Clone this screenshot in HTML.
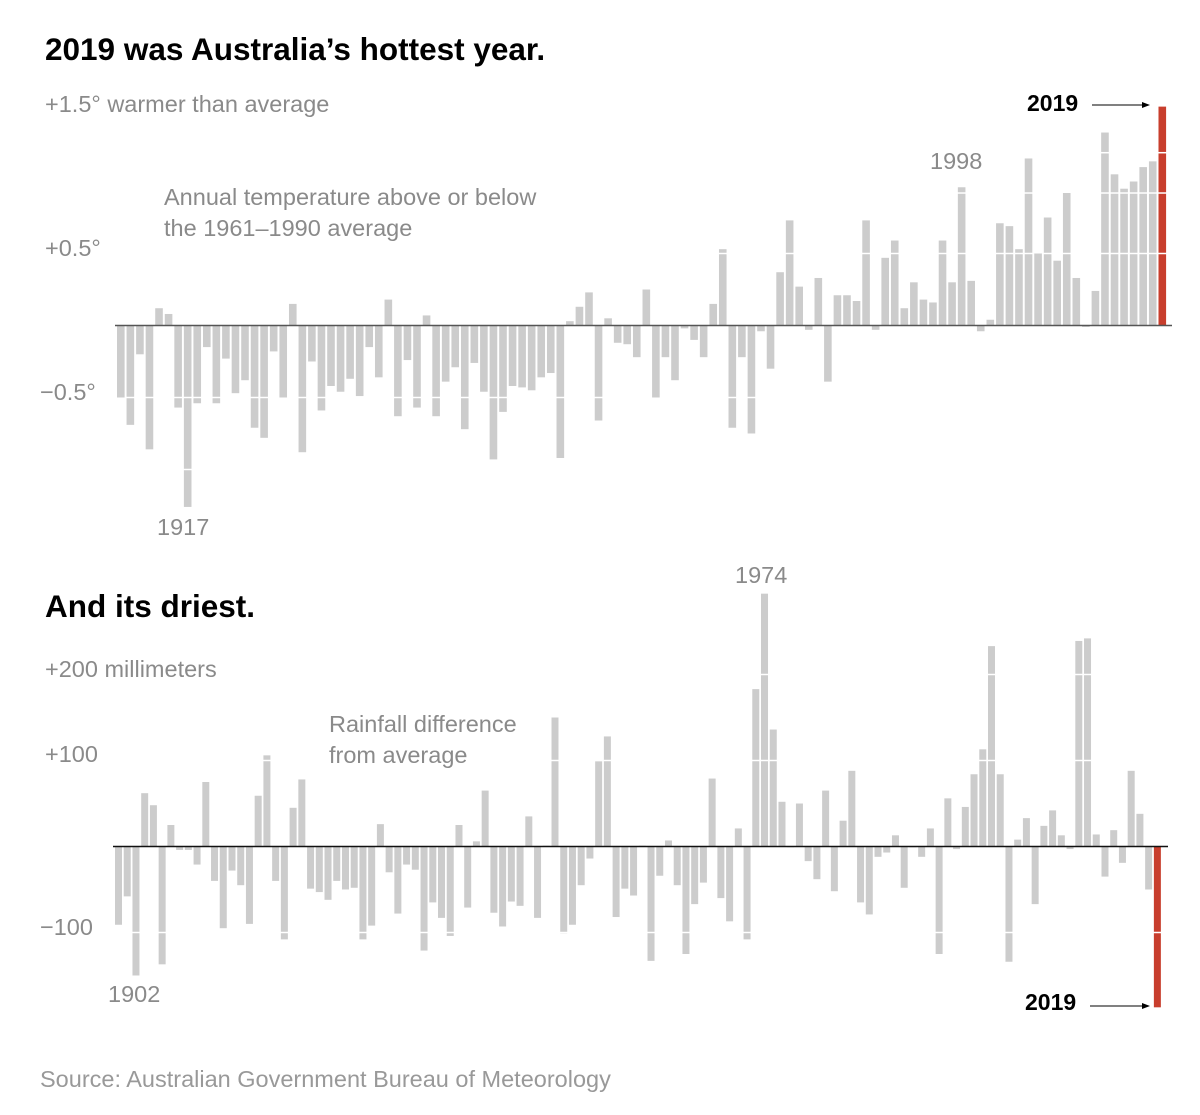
<!DOCTYPE html>
<html><head><meta charset="utf-8">
<style>
body{margin:0;background:#fff;}
svg{display:block;font-family:"Liberation Sans",sans-serif;}
.lab{fill:#8a8a8a;font-size:23.5px;}
.ttl{fill:#000;font-size:31.5px;font-weight:bold;}
.yr{fill:#000;font-size:23px;font-weight:bold;}
</style></head>
<body>
<svg id="chart" width="1200" height="1115" viewBox="0 0 1200 1115">
<text class="ttl" x="45" y="60">2019 was Australia’s hottest year.</text>
<text class="lab" x="45" y="112">+1.5° warmer than average</text>
<text class="lab" x="45" y="256">+0.5°</text>
<text class="lab" x="40" y="400">−0.5°</text>
<text class="lab" x="164" y="205">Annual temperature above or below</text>
<text class="lab" x="164" y="236">the 1961–1990 average</text>
<text class="lab" x="157" y="535">1917</text>
<text class="lab" x="930" y="169">1998</text>
<text class="yr" x="1027" y="111">2019</text>
<g id="temp-bars"></g>

<text class="ttl" x="45" y="617">And its driest.</text>
<text class="lab" x="45" y="677">+200 millimeters</text>
<text class="lab" x="45" y="762">+100</text>
<text class="lab" x="40" y="935">−100</text>
<text class="lab" x="329" y="732">Rainfall difference</text>
<text class="lab" x="329" y="763">from average</text>
<text class="lab" x="735" y="583">1974</text>
<text class="lab" x="108" y="1002">1902</text>
<text class="yr" x="1025" y="1010">2019</text>
<g id="rain-bars"></g>

<text x="40" y="1087" style="fill:#999;font-size:23.5px;">Source: Australian Government Bureau of Meteorology</text>
</svg>
<script>
const tempStartYear = 1910;
const tempValues = [
-0.50,-0.69,-0.20,-0.86,0.12,0.08,-0.57,-1.26,-0.54,-0.15,
-0.54,-0.23,-0.47,-0.38,-0.71,-0.78,-0.18,-0.50,0.15,-0.88,
-0.25,-0.59,-0.42,-0.46,-0.37,-0.49,-0.15,-0.36,0.18,-0.63,
-0.24,-0.57,0.07,-0.63,-0.39,-0.29,-0.72,-0.26,-0.46,-0.93,
-0.60,-0.42,-0.43,-0.45,-0.36,-0.33,-0.92,0.03,0.13,0.23,
-0.66,0.05,-0.12,-0.13,-0.22,0.25,-0.50,-0.22,-0.38,-0.02,
-0.10,-0.22,0.15,0.53,-0.71,-0.22,-0.75,-0.04,-0.30,0.37,
0.73,0.27,-0.03,0.33,-0.39,0.21,0.21,0.17,0.73,-0.03,
0.47,0.59,0.12,0.30,0.18,0.16,0.59,0.30,0.96,0.31,
-0.04,0.04,0.71,0.69,0.53,1.16,0.50,0.75,0.45,0.92,
0.33,-0.01,0.24,1.34,1.05,0.95,1.00,1.10,1.14,1.52];
const tempGridValues = [0.5, 0.92, 1.2, -0.5, -1.0];
const rainStartYear = 1900;
const rainValues = [
-91,-58,-150,62,48,-137,25,-4,-4,-21,
75,-40,-95,-28,-45,-90,59,106,-40,-108,
45,78,-49,-53,-62,-40,-50,-48,-108,-92,
26,-30,-78,-21,-27,-121,-65,-83,-104,25,
-71,6,65,-77,-93,-64,-69,35,-83,1,
150,-101,-91,-45,-14,99,128,-82,-49,-57,
1,-133,-34,7,-45,-125,-67,-42,79,-60,
-87,21,-108,183,294,136,52,0,50,-17,
-38,65,-52,30,88,-65,-79,-12,-7,13,
-48,-1,-12,21,-125,56,-3,46,84,113,
233,84,-134,8,33,-67,24,42,13,-3,
239,242,14,-35,19,-19,88,38,-50,-187];
const rainGridValues = [100, 200, -100];

const NS = "http://www.w3.org/2000/svg";
function mk(tag, attrs, parent){const e=document.createElementNS(NS,tag);for(const k in attrs)e.setAttribute(k,attrs[k]);parent.appendChild(e);return e;}

function drawChart(g, values, startYear, x0, step, bw, zeroY, pxPerUnit, xEnd, gridVals, axisColor, prefix){
  const y = v => zeroY - v*pxPerUnit;
  values.forEach((v,i)=>{
    const last = i===values.length-1;
    const bx = x0+i*step;
    const r = mk('rect',{x:bx, y:Math.min(y(v),zeroY), width:bw, height:Math.max(Math.abs(y(v)-zeroY),0.8), fill:last?'#c83e2d':'#cccccc'}, g);
    
    
    gridVals.forEach(gv=>{
      if ((gv>0 && v>gv) || (gv<0 && v<gv)) {
        const l = mk('line',{x1:bx-1,x2:bx+bw+1,y1:y(gv),y2:y(gv),stroke:'#fff','stroke-width':1.5}, g);
        
        
      }
    });
  });
  const z = mk('line',{x1:x0-2,x2:xEnd,y1:zeroY,y2:zeroY,stroke:axisColor,'stroke-width':1.5}, g);
  
  
}
const tg=document.getElementById('temp-bars');
drawChart(tg, tempValues, tempStartYear, 117, 9.555, 7.6, 325.5, 144, 1172, tempGridValues, '#555', 'temp');
const rg=document.getElementById('rain-bars');
drawChart(rg, rainValues, rainStartYear, 115, 8.73, 7, 846.5, 0.86, 1168, rainGridValues, '#111', 'rain');

const svg=document.getElementById('chart');
function arrow(x1,x2,yy,name){
  const l=mk('line',{x1:x1,x2:x2-6,y1:yy,y2:yy,stroke:'#000','stroke-width':1},svg);
  
  
  const p=mk('polygon',{points:(x2)+','+yy+' '+(x2-8)+','+(yy-3)+' '+(x2-8)+','+(yy+3),fill:'#000'},svg);
  
  
}
arrow(1092,1150,105,'temp-2019-arrow');
arrow(1090,1150,1006,'rain-2019-arrow');
</script>
</body></html>
